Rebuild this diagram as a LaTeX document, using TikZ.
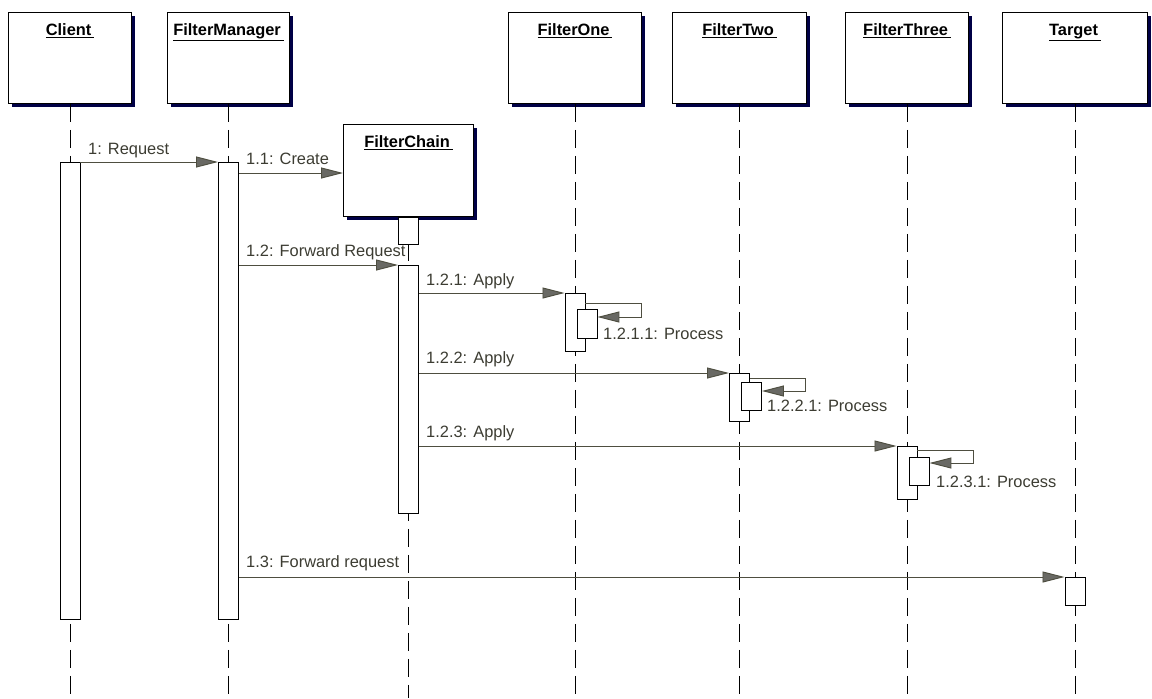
\documentclass[tikz,border=0pt]{standalone}
\usepackage{fontspec}
\setmainfont{Liberation Sans}
\usetikzlibrary{arrows.meta,shadows}
\definecolor{msgline}{RGB}{78,78,64}
\definecolor{tipgray}{RGB}{105,105,100}
\definecolor{labeltext}{RGB}{60,60,50}
\definecolor{shadownavy}{RGB}{0,0,70}
\tikzset{
  object/.style={draw, fill=white, line width=0.8pt, minimum height=2.73cm, anchor=north west,
    drop shadow={shadow xshift=0.1cm, shadow yshift=-0.1cm, fill=shadownavy, opacity=1}},
  title/.style={font=\fontsize{14}{16}\selectfont\bfseries, anchor=base, inner sep=0pt},
  lifeline/.style={line width=0.7pt, dash pattern=on 0.54cm off 0.24cm},
  activation/.style={draw, fill=white, line width=0.8pt, minimum width=0.6cm, anchor=north, inner sep=0pt},
  msg/.style={draw=msgline, line width=0.8pt, -{Triangle[length=0.66cm,width=0.33cm,fill=tipgray]}},
  msglabel/.style={font=\fontsize{14}{16}\selectfont, text=labeltext, anchor=base west, inner sep=0pt}
}

\begin{document}
\begin{tikzpicture}[x=0.03cm,y=-0.03cm]
  \useasboundingbox (0,0) rectangle (1152,698);
  \coordinate (bottom) at (0,698);

  % objects
  \node[object, minimum width=3.69cm] (client) at (8,12) {};
  \node[object, minimum width=3.66cm] (manager) at (167,12) {};
  \node[object, minimum width=3.90cm, minimum height=2.76cm] (chain) at (343,124) {};
  \node[object, minimum width=3.99cm] (one) at (508,12) {};
  \node[object, minimum width=4.02cm] (two) at (672,12) {};
  \node[object, minimum width=3.69cm] (three) at (845,12) {};
  \node[object, minimum width=4.35cm] (target) at (1002,12) {};

  \node[title] (client-t) at ([yshift=-0.69cm]client.north) {\underline{Client\,}};
  \node[title] (manager-t) at ([yshift=-0.69cm]manager.north) {\underline{FilterManager\,}};
  \node[title] (chain-t) at ([yshift=-0.69cm]chain.north) {\underline{FilterChain\,}};
  \node[title] (one-t) at ([yshift=-0.69cm]one.north) {\underline{FilterOne\,}};
  \node[title] (two-t) at ([yshift=-0.69cm]two.north) {\underline{FilterTwo\,}};
  \node[title] (three-t) at ([yshift=-0.69cm]three.north) {\underline{FilterThree\,}};
  \node[title] (target-t) at ([yshift=-0.69cm]target.north) {\underline{Target\,}};

  % lifelines
  \foreach \obj in {client,manager,chain,one,two,three,target}
    \draw[lifeline] (\obj.south) -- (\obj.south |- bottom);

  % activations
  \node[activation, minimum height=13.71cm] (client-a) at (client.south |- 0,162) {};
  \node[activation, minimum height=13.71cm] (manager-a) at (manager.south |- 0,162) {};
  \node[activation, minimum height=0.81cm] (chain-a1) at (chain.south) {};
  \node[activation, minimum height=7.44cm] (chain-a2) at (chain.south |- 0,265) {};
  \node[activation, minimum height=1.74cm] (one-a) at (one.south |- 0,293) {};
  \node[activation, minimum height=0.87cm] (one-n) at ([xshift=0.36cm]one.south |- 0,309) {};
  \node[activation, minimum height=1.44cm] (two-a) at (two.south |- 0,373) {};
  \node[activation, minimum height=0.84cm] (two-n) at ([xshift=0.36cm]two.south |- 0,382) {};
  \node[activation, minimum height=1.59cm] (three-a) at (three.south |- 0,446) {};
  \node[activation, minimum height=0.84cm] (three-n) at ([xshift=0.36cm]three.south |- 0,457) {};
  \node[activation, minimum height=0.84cm] (target-a) at (target.south |- 0,577) {};

  % messages
  \draw[msg] (client-a.north east) -- (manager-a.north west);
  \draw[msg] (manager-a.east |- 0,173) -- (chain.west |- 0,173);
  \draw[msg] (manager-a.east |- chain-a2.north) -- (chain-a2.north west);
  \draw[msg] (chain-a2.east |- one-a.north) -- (one-a.north west);
  \draw[msg] (one-a.east |- 0,303) -- ([xshift=1.98cm]one.south |- 0,303) |- (one-n.east |- 0,317);
  \draw[msg] (chain-a2.east |- two-a.north) -- (two-a.north west);
  \draw[msg] (two-a.east |- 0,378) -- ([xshift=1.98cm]two.south |- 0,378) |- (two-n.east |- 0,391);
  \draw[msg] (chain-a2.east |- three-a.north) -- (three-a.north west);
  \draw[msg] (three-a.east |- 0,450) -- ([xshift=1.98cm]three.south |- 0,450) |- (three-n.east |- 0,463);
  \draw[msg] (manager-a.east |- target-a.north) -- (target-a.north west);

  % labels
  \node[msglabel] (l1) at (88,154) {1: Request};
  \node[msglabel] (l11) at (246,164) {1.1: Create};
  \node[msglabel] (l12) at (246,256) {1.2: Forward Request};
  \node[msglabel] (l121) at (426,285) {1.2.1: Apply};
  \node[msglabel] (l1211) at (603,339) {1.2.1.1: Process};
  \node[msglabel] (l122) at (426,363) {1.2.2: Apply};
  \node[msglabel] (l1221) at (767,411) {1.2.2.1: Process};
  \node[msglabel] (l123) at (426,437) {1.2.3: Apply};
  \node[msglabel] (l1231) at (936,487) {1.2.3.1: Process};
  \node[msglabel] (l13) at (246,567) {1.3: Forward request};
\end{tikzpicture}
\end{document}
